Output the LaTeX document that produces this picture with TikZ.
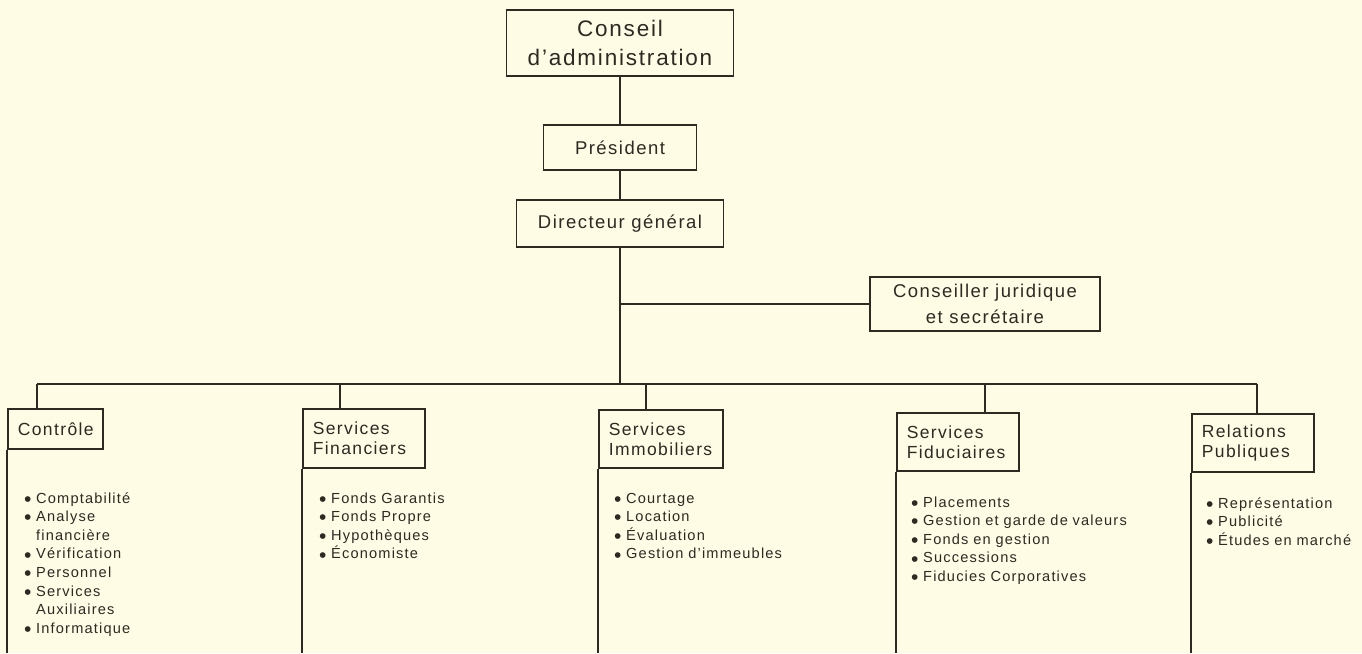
\documentclass[tikz,border=0pt]{standalone}
\usepackage{fontspec}
\setmainfont{Liberation Sans}
\newfontfamily\trk{Liberation Sans}[LetterSpace=8]
\definecolor{bg}{HTML}{FEFCE4}
\definecolor{ink}{HTML}{2F2924}
\newcommand{\bitem}{\makebox[12pt][l]{\raisebox{-3.2pt}{\fontsize{21}{0}\selectfont\textbullet}}}
\newcommand{\bindent}{\hspace*{12pt}}
\begin{document}
\begin{tikzpicture}[x=1pt,y=-1pt,
  every node/.style={text=ink},
  box/.style={draw=ink, line width=1.6pt, inner sep=0pt, align=center,
    font=\trk\fontsize{18.5}{26}\selectfont},
  ubox/.style={draw=ink, line width=1.6pt, inner xsep=10pt, inner ysep=0pt,
    anchor=north west, align=left, font=\trk\fontsize{17.5}{20}\selectfont},
  blist/.style={anchor=base west, inner sep=0pt, align=left, text width=230pt,
    font=\trk\fontsize{14.6}{18.6}\selectfont},
  conn/.style={draw=ink, line width=1.6pt}]
\fill[bg] (0,0) rectangle (1362,653);
\useasboundingbox (0,0) rectangle (1362,653);
\coordinate (bot) at (0,653);

\node[box, minimum width=227pt, minimum height=66pt,
  font=\trk\fontsize{22.5}{29}\selectfont] (conseil) at (620,43) {Conseil\\d’administration};
\node[box, minimum width=153pt, minimum height=45pt] (pres) at (620,147.5) {Président};
\node[box, minimum width=207pt, minimum height=47pt] (dg) at (620,223.5) {Directeur général};
\node[box, minimum width=230pt, minimum height=54pt] (cj) at (985,304) {Conseiller juridique\\et secrétaire};

\node[ubox, text width=75pt, minimum height=40pt] (ctrl) at (7,408) {Contrôle};
\node[ubox, text width=102pt, minimum height=59pt] (fin) at (302,408) {Services\\Financiers};
\node[ubox, text width=104pt, minimum height=58pt] (immo) at (598,409) {Services\\Immobiliers};
\node[ubox, text width=102pt, minimum height=58pt] (fidu) at (896,412) {Services\\Fiduciaires};
\node[ubox, text width=102pt, minimum height=58pt] (rp) at (1191,413) {Relations\\Publiques};

\node[blist] (lctrl) at (24,503) {\bitem Comptabilité\\\bitem Analyse\\\bindent financière\\\bitem Vérification\\\bitem Personnel\\\bitem Services\\\bindent Auxiliaires\\\bitem Informatique};
\node[blist] (lfin) at (319,503) {\bitem Fonds Garantis\\\bitem Fonds Propre\\\bitem Hypothèques\\\bitem Économiste};
\node[blist] (limmo) at (614,503) {\bitem Courtage\\\bitem Location\\\bitem Évaluation\\\bitem Gestion d’immeubles};
\node[blist] (lfidu) at (911,507) {\bitem Placements\\\bitem Gestion et garde de valeurs\\\bitem Fonds en gestion\\\bitem Successions\\\bitem Fiducies Corporatives};
\node[blist] (lrp) at (1206,508) {\bitem Représentation\\\bitem Publicité\\\bitem Études en marché};

\coordinate (jc) at (dg.south |- cj.west);
\coordinate (jb) at (620,384);
\coordinate (b1) at (37,384);
\coordinate (b2) at (340,384);
\coordinate (b3) at (646,384);
\coordinate (b4) at (985,384);
\coordinate (b5) at (1257,384);

\draw[conn] (conseil.south) -- (pres.north);
\draw[conn] (pres.south) -- (dg.north);
\draw[conn] (dg.south) -- (jb);
\draw[conn] (jc) -- (cj.west);
\draw[conn] (b1) -- (b5);
\draw[conn] (b1) -- (b1 |- ctrl.north);
\draw[conn] (b2) -- (b2 |- fin.north);
\draw[conn] (b3) -- (b3 |- immo.north);
\draw[conn] (b4) -- (b4 |- fidu.north);
\draw[conn] (b5) -- (b5 |- rp.north);
\draw[conn] (ctrl.south west) -- (ctrl.south west |- bot);
\draw[conn] (fin.south west) -- (fin.south west |- bot);
\draw[conn] (immo.south west) -- (immo.south west |- bot);
\draw[conn] (fidu.south west) -- (fidu.south west |- bot);
\draw[conn] (rp.south west) -- (rp.south west |- bot);
\end{tikzpicture}
\end{document}
